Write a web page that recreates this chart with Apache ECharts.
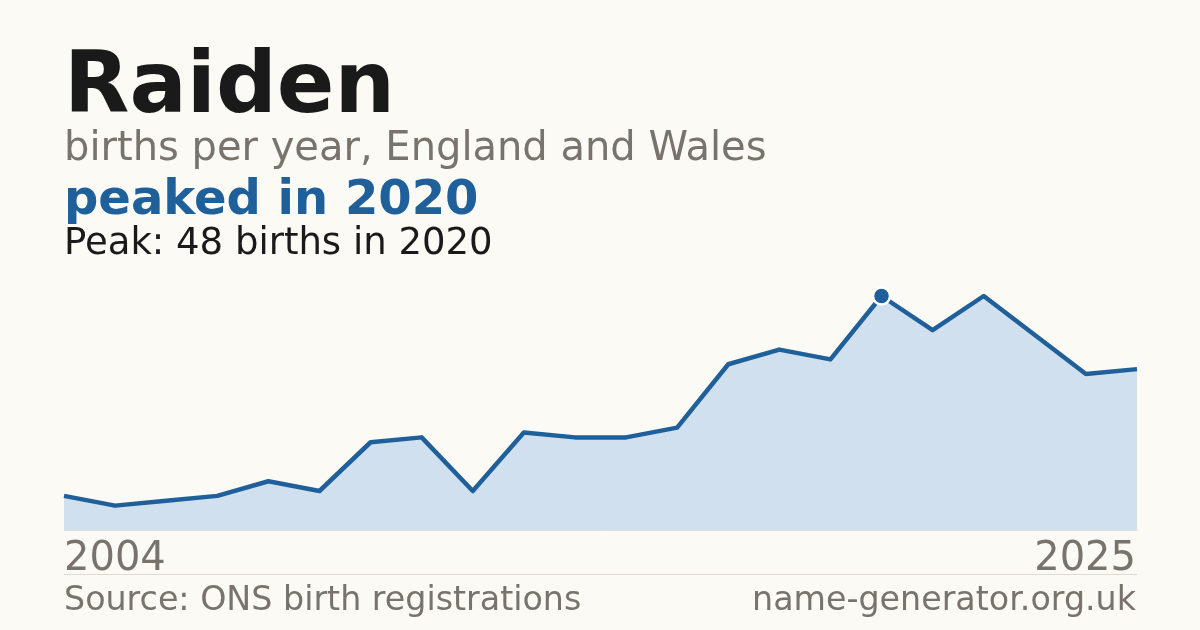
<!DOCTYPE html>
<html>
<head>
<meta charset="utf-8">
<script src="https://cdn.jsdelivr.net/npm/echarts@6/dist/echarts.min.js"></script>
<style>
  html, body { margin: 0; padding: 0; background: #fbfaf5; }
  #chart { width: 1200px; height: 630px; }
</style>
</head>
<body>
<div id="chart"></div>
<script>
// births per year for "Raiden"
var years = ['2004','2005','2006','2007','2008','2009','2010','2011','2012','2013','2014',
             '2015','2016','2017','2018','2019','2020','2021','2022','2023','2024','2025'];
var births = [7, 5, 6, 7, 10, 8, 18, 19, 8, 20, 19,
              19, 21, 34, 37, 35, 48, 41, 48, 40, 32, 33];

var peakIdx = births.indexOf(Math.max.apply(null, births));

var font = 'DejaVu Sans, sans-serif';
var grey = '#78736b';
var blue = '#20609a';

var chart = echarts.init(document.getElementById('chart'));

var option = {
    backgroundColor: '#fbfaf5',
    animation: false,
    grid: { left: 64, right: 63, top: 296, bottom: 100 },
    xAxis: {
        type: 'category',
        data: years,
        boundaryGap: false,
        axisLine: { show: true, lineStyle: { color: '#e3ded5', width: 1 } },
        axisTick: { show: false },
        axisLabel: { show: false }
    },
    yAxis: {
        type: 'value',
        min: 0,
        max: 48,
        show: false,
        splitLine: { show: false }
    },
    series: [
        {
            type: 'line',
            data: births,
            showSymbol: false,
            lineStyle: { color: blue, width: 4.5, join: 'round' },
            areaStyle: { color: '#d0e0ef', opacity: 1 },
            z: 2
        },
        {
            type: 'scatter',
            data: [[peakIdx, births[peakIdx]]],
            symbol: 'circle',
            symbolSize: 17,
            itemStyle: { color: blue, opacity: 1, borderColor: '#ffffff', borderWidth: 2.5 },
            z: 5
        }
    ],
    graphic: [
        { type: 'text', left: 64, top: 47, style: { text: 'Raiden', font: 'bold 85px ' + font, fill: '#1a1a1a' } },
        { type: 'text', left: 64, top: 130, style: { text: 'births per year, England and Wales', font: '40px ' + font, fill: grey } },
        { type: 'text', left: 64, top: 178, style: { text: 'peaked in ' + years[peakIdx], font: 'bold 48px ' + font, fill: blue } },
        { type: 'text', left: 64, top: 226, style: { text: 'Peak: ' + births[peakIdx] + ' births in ' + years[peakIdx], font: '37px ' + font, fill: '#1a1a1a' } },
        { type: 'text', left: 64, top: 540, style: { text: years[0], font: '40px ' + font, fill: grey } },
        { type: 'text', right: 64, top: 540, style: { text: years[years.length - 1], font: '40px ' + font, fill: grey } },
        { type: 'rect', left: 64, top: 574, shape: { width: 1073, height: 1 }, style: { fill: '#dedad2' } },
        { type: 'text', left: 64, top: 585, style: { text: 'Source: ONS birth registrations', font: '33.3px ' + font, fill: grey } },
        { type: 'text', right: 64, top: 585, style: { text: 'name-generator.org.uk', font: '33.3px ' + font, fill: grey } }
    ]
};

chart.setOption(option);
</script>
</body>
</html>
